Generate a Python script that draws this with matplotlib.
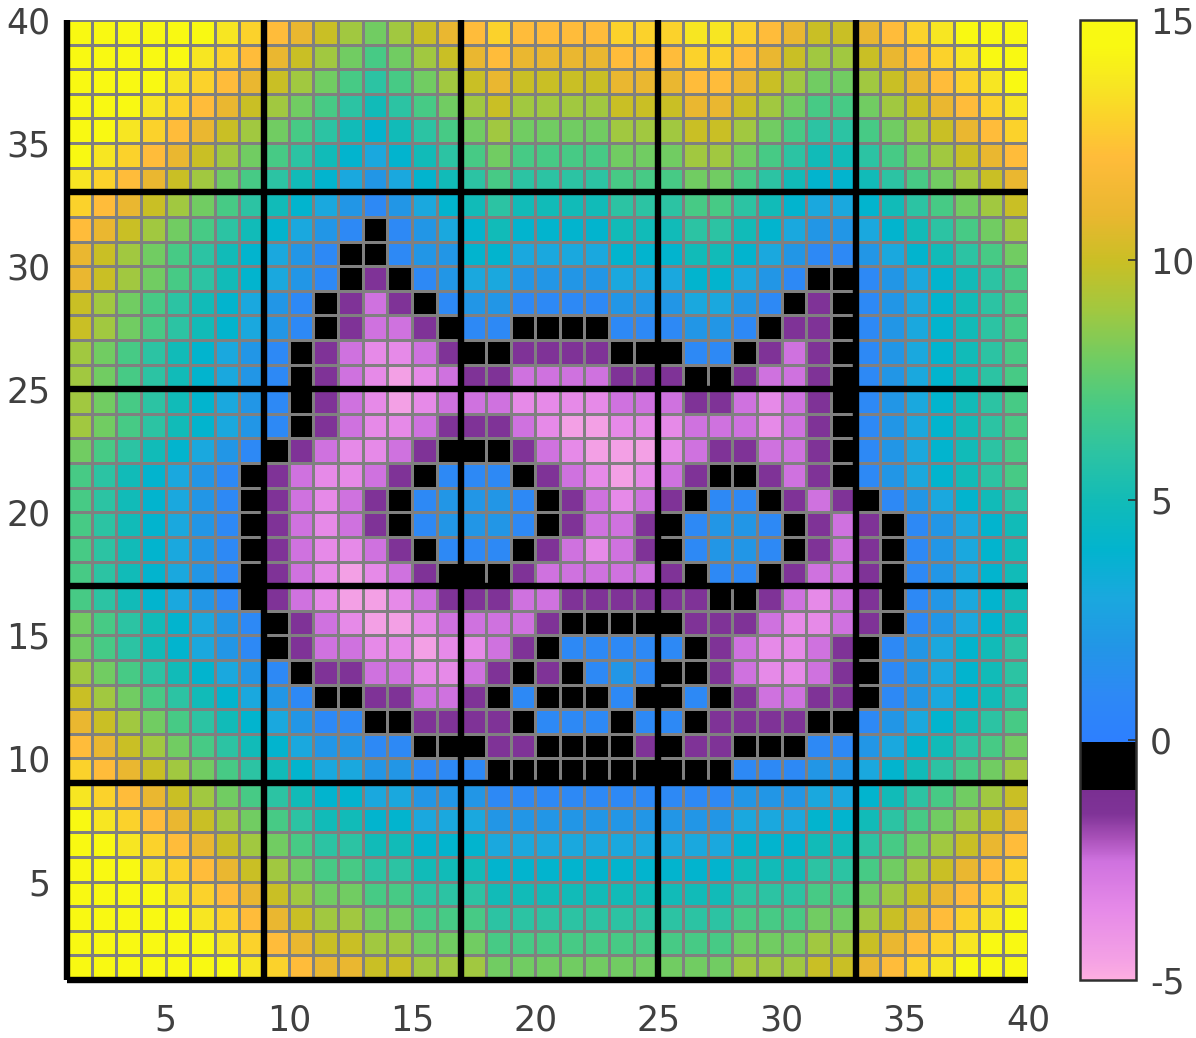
#!/bin/env python3

import matplotlib
matplotlib.use('Agg')
import matplotlib.pyplot as plt
import numpy as np
from matplotlib.colors import LinearSegmentedColormap

# one letter per cell, top row (y=39) first
rows = [
    'ffffffed cba989ab cdcc ccdd deedcbaa bcdefff',
    'fffffedc ba98789a bcbb bbcc cddcba99 abcdeff',
    'ffffedcb a9876789 abaa aabb bccba988 9abcdef',
    'fffedcba 98765678 9a99 99aa abba9877 89abcde',
    'ffedcba9 87654567 8988 8899 9aa98766 789abcd',
    'fedcba98 76543456 7877 7788 89987655 6789abc',
    'edcba987 65432345 6766 6677 78876544 56789ab',
    'dcba9876 54321234 5655 5566 67765433 456789a',
    'cba98765 43210123 4544 4455 56654322 3456789',
    'ba987654 32100122 4433 3344 45543211 2345678',
    'ba987654 3210p012 3322 2233 34432100 1234567',
    'a9876543 210pqp01 2211 1122 233210p0 1234567',
    'a9876543 210pqqp0 1100 0011 12210pp0 1234567',
    '98765432 10pqrrqp 00pp pp00 0110pqp0 1234567',
    '98765432 10pqrsrq ppqq qqpp p00pqqp0 1234567',
    '98765432 10pqrsrq qqrr rrqq qppqrqp0 1234567',
    '98765432 10pqrrqp ppqr ssrr rqqqrqp0 1234567',
    '87654321 0pqrrqp0 00pq rsss rqppqqp0 1234567',
    '76543210 pqrrqp01 110p qrsr qp00pqp0 1234567',
    '76543210 pqrqp012 2210 pqrq p0110pqp 0123456',
    '76543210 pqrqp012 2210 pqqp 012210pq p012345',
    '76543210 pqrrqp01 110p qrqp 012210pq p012345',
    '76543210 pqrsrqp0 00pq qqqq p0110pqq p012345',
    '76543210 pqrssrqp ppqq pppp pp00pqrq p012345',
    '87654321 0pqrssrq qqqp 0000 0pppqrrq p012345',
    '87654321 0pqqrrsr rqp0 1111 10pqrrqp 0123456',
    '98765432 10ppqqrr qp0p 0121 00pqrrqp 0123456',
    'a9876543 2100ppqq p010 0010 010pqqpp 0123456',
    'ba987654 321100pp pp01 1101 10pppp00 1234567',
    'cba98765 43221100 0pp0 000p 0pp00011 2345678',
    'dcba9876 54332211 1000 0000 00011122 3456789',
    'edcba987 65443322 2111 1111 11122233 456789a',
    'fedcba98 76554433 3222 2222 22233344 56789ab',
    'ffedcba9 87665544 4333 3333 33344455 6789abc',
    'fffedcba 98776655 5444 4444 44455566 789abcd',
    'ffffedcb a9887766 6555 5555 55566677 89abcde',
    'fffffedc ba998877 7666 6666 66677788 9abcdef',
    'ffffffed cbaa9988 8777 7777 77788899 abcdeff',
    'fffffffe dcbbaa99 9888 8888 888999aa bcdefff',
]

# cell value for each letter
levels = {
    'f': 14.5, 'e': 13.7, 'd': 13.0, 'c': 12.2, 'b': 11.0, 'a': 10.0, '9': 9.0,
    '8': 8.0, '7': 7.0, '6': 6.0, '5': 5.0, '4': 4.0, '3': 3.0, '2': 2.0,
    '1': 1.0, '0': -0.5, 'p': -1.5, 'q': -2.5, 'r': -3.5, 's': -4.5,
}

# colorbar colours (value, colour)
cmap_values = [-5, -4.5, -3.5, -2.5, -2, -1.5, -1, -1, 0, 0, 1, 2, 3, 4, 5, 6, 7, 8, 9, 10, 11, 12.2, 13, 13.7, 14.5, 15]
cmap_colors = ['#ffb0e0', '#f3a0e5', '#e68ae8', '#cf72df', '#a850b8', '#7f3397', '#7a2f92', '#000000', '#000000',
               '#2d7fff', '#2d89f5', '#2296e6', '#1aa8de', '#02b4ce', '#11bbb8', '#2cc3a3', '#47ca85', '#71cc62',
               '#a1c840', '#c9bf25', '#eab730', '#ffbc3a', '#fbd22b', '#f7e622', '#f9f912', '#f9f912']

thick_lines = [1, 9, 17, 25, 33]
ticks = [5, 10, 15, 20, 25, 30, 35, 40]
cbar_ticks = [0, 5, 10]
cbar_labels = ['-5', '0', '5', '10', '15']

text_color = '#404040'
font_size = 25

cells = [r.replace(' ', '') for r in rows]
assert all(len(r) == 39 for r in cells), [len(r) for r in cells]
z = np.array([[levels[c] for c in r] for r in cells])[::-1]

pos = [(v + 5) / 20 for v in cmap_values]
cmap = LinearSegmentedColormap.from_list('map', list(zip(pos, cmap_colors)), N=1024)

W, H = 1196, 1038
fig = plt.figure(figsize=(W / 100, H / 100), dpi=100)
ax = fig.add_axes([67 / W, 1 - 980 / H, 961 / W, 960 / H])

x = np.arange(1, 41)
y = np.arange(1, 41)
mesh = ax.pcolormesh(x, y, z, cmap=cmap, vmin=-5, vmax=15, edgecolors='#808080', linewidth=2.1)

for t in thick_lines:
    ax.plot([t, t], [1, 40], color='black', linewidth=4.6, solid_capstyle='butt', clip_on=False)
    ax.plot([1, 40], [t, t], color='black', linewidth=4.6, solid_capstyle='butt', clip_on=False)

ax.set_xlim(1, 40)
ax.set_ylim(1, 40)
ax.set_xticks(ticks)
ax.set_yticks(ticks)
ax.tick_params(length=0, labelsize=font_size, labelcolor=text_color)
ax.tick_params(axis='x', pad=17)
ax.tick_params(axis='y', pad=12)
for s in ax.spines.values():
    s.set_visible(False)

cax = fig.add_axes([1080 / W, 1 - 980 / H, 56 / W, 960 / H])
cbar = fig.colorbar(mesh, cax=cax)
cbar.solids.set_edgecolor('face')
# the end ticks sit on the outline in the reference, only the inner ones show
cbar.set_ticks([-5] + cbar_ticks + [15], labels=cbar_labels)
cbar.outline.set_edgecolor('#303030')
cbar.outline.set_linewidth(1.8)
cax.tick_params(direction='in', length=6, width=1.2, color='#303030', labelsize=font_size,
                labelcolor=text_color, pad=10)
end_ticks = cax.yaxis.get_major_ticks()
end_ticks[0].tick2line.set_visible(False)
end_ticks[-1].tick2line.set_visible(False)

plt.savefig('out.png', dpi=100)
plt.close()
